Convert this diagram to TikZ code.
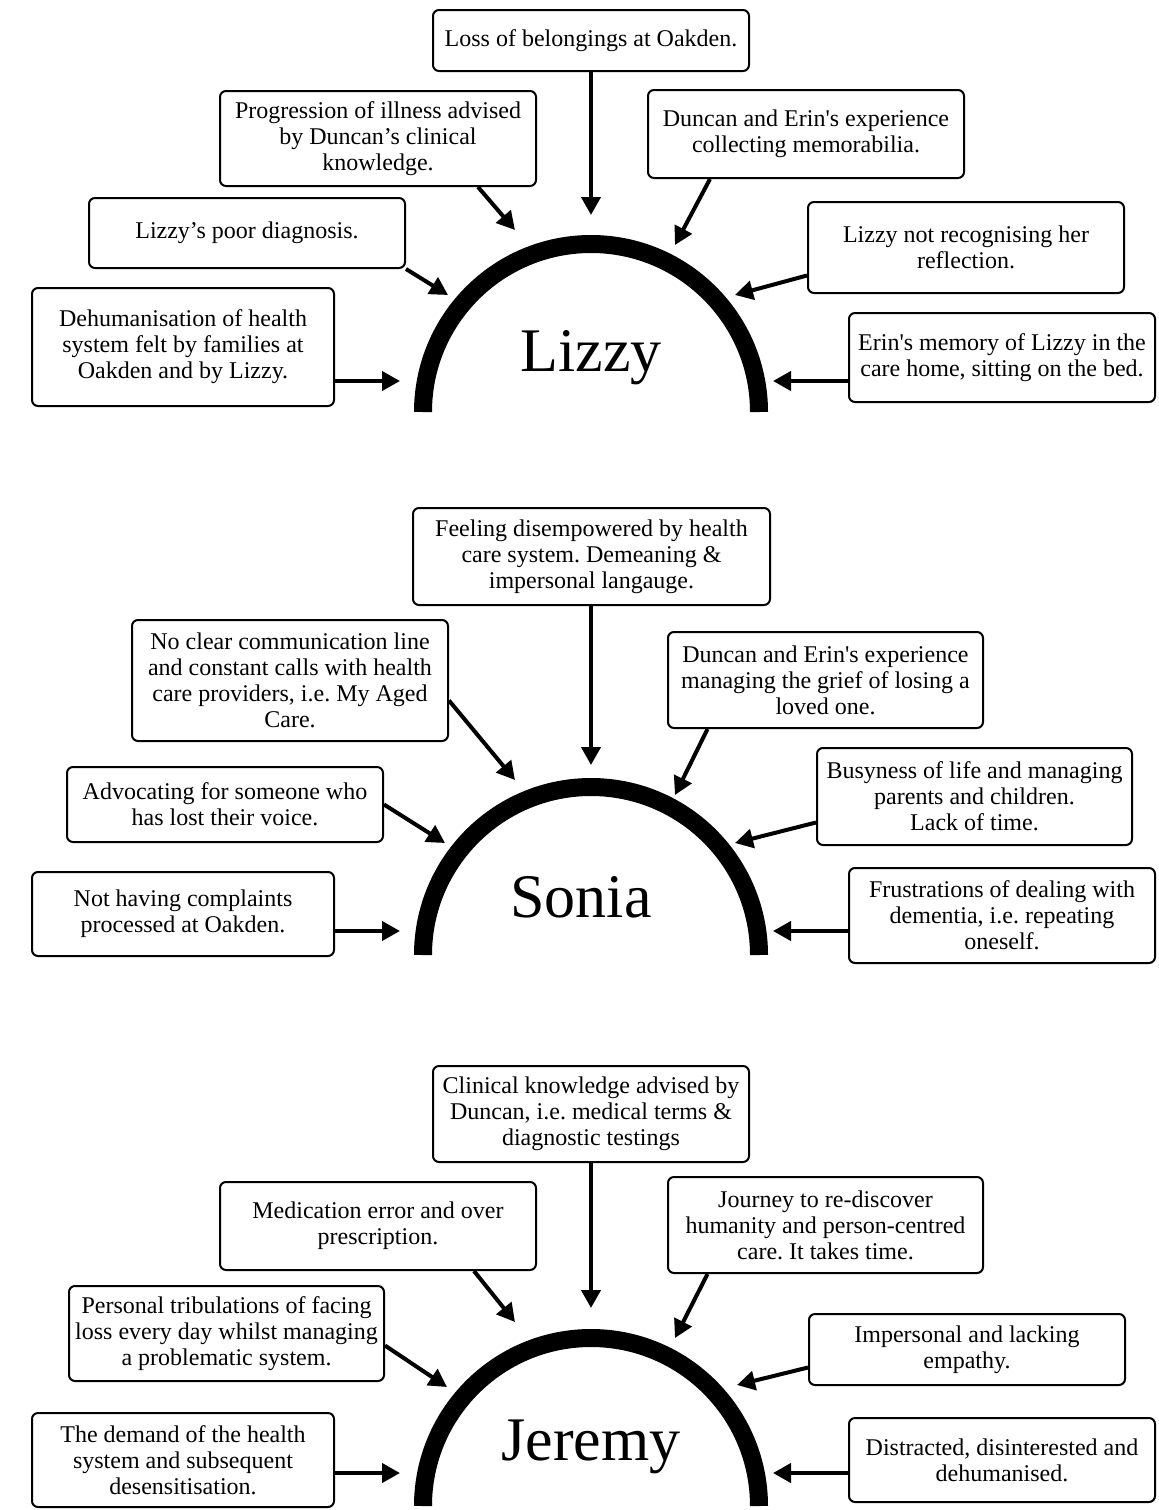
\documentclass[tikz,border=0pt]{standalone}
\usepackage{fontspec}
\newfontfamily\labelfont{Liberation Serif}
\usetikzlibrary{arrows.meta}
\frenchspacing
\tikzset {
  % box with one theme
  theme/.style = {
    draw = black,
    line width = 1pt,
    rounded corners = 3pt,
    align = center,
    inner sep = 0,
    minimum width = 158pt,
    font = \labelfont\fontsize{12pt}{13pt}\selectfont
  },
  % name inside the half ring
  person/.style = {
    anchor = base,
    font = \labelfont\fontsize{31pt}{31pt}\selectfont
  },
  ring/.style = {
    draw = black,
    line width = 9pt
  },
  % arrow from a theme to the ring
  arr/.style = {
    draw = black,
    line width = 2pt,
    -{Triangle[length=9pt,width=9.5pt]}
  }
}

\begin{document}
\begin{tikzpicture}[x=0.5pt, y=-0.5pt]
    \useasboundingbox (0,0) rectangle (1159,1510);

    % Lizzy
    \coordinate (lizzy-c) at (591,412);
    \draw[ring] (lizzy-c) ++(-168,0) arc[start angle=180, end angle=0, radius=84pt];
    \node[person] (lizzy) at (591,371) {Lizzy};

    \node[theme, minimum height=30.5pt] at (591,40.5) (lz-loss)
    {Loss of belongings at Oakden.};
    \node[theme, minimum height=47.5pt] at (378,138.5) (lz-prog)
    {Progression of illness advised\\ by Duncan’s clinical\\ knowledge.};
    \node[theme, minimum height=44pt] at (806,134) (lz-collect)
    {Duncan and Erin's experience\\ collecting memorabilia.};
    \node[theme, minimum height=35pt] at (247,233) (lz-diag)
    {Lizzy’s poor diagnosis.};
    \node[theme, minimum height=45.5pt] at (966,247.5) (lz-mirror)
    {Lizzy not recognising her\\ reflection.};
    \node[theme, minimum width=151pt, minimum height=59pt] at (183,347) (lz-dehum)
    {Dehumanisation of health\\ system felt by families at\\ Oakden and by Lizzy.};
    \node[theme, minimum width=153pt, minimum height=44.5pt] at (1002,357.5) (lz-bed)
    {Erin's memory of Lizzy in the\\ care home, sitting on the bed.};

    \coordinate (lz-loss-tip) at (591,215);
    \coordinate (lz-prog-tip) at (515,230);
    \coordinate (lz-collect-tip) at (675,245);
    \coordinate (lz-diag-tip) at (448,295);
    \coordinate (lz-mirror-tip) at (735,295);
    \coordinate (lz-dehum-tip) at (400,381);
    \coordinate (lz-bed-tip) at (773,381);

    \draw[arr] (lz-loss) -- (lz-loss-tip);
    \draw[arr] ([xshift=50pt]lz-prog.south) -- (lz-prog-tip);
    \draw[arr] ([xshift=-48pt]lz-collect.south) -- (lz-collect-tip);
    \draw[arr] (lz-diag.south east) -- (lz-diag-tip);
    \draw[arr] ([yshift=-14pt]lz-mirror.west) -- (lz-mirror-tip);
    \draw[arr] (lz-dehum.east |- lz-dehum-tip) -- (lz-dehum-tip);
    \draw[arr] (lz-bed.west |- lz-bed-tip) -- (lz-bed-tip);

    % Sonia
    \coordinate (sonia-c) at (591,955);
    \draw[ring] (sonia-c) ++(-168,0) arc[start angle=180, end angle=0, radius=84pt];
    \node[person] (sonia) at (581,917) {Sonia};

    \node[theme, minimum width=178.5pt, minimum height=48.5pt] at (591.5,556.5) (so-power)
    {Feeling disempowered by health\\ care system. Demeaning \&\\ impersonal langauge.};
    \node[theme, minimum height=60.5pt] at (290,680.5) (so-calls)
    {No clear communication line\\ and constant calls with health\\ care providers, i.e. My Aged\\ Care.};
    \node[theme, minimum width=157.5pt, minimum height=48pt] at (825.5,680) (so-grief)
    {Duncan and Erin's experience\\ managing the grief of losing a\\ loved one.};
    \node[theme, minimum height=37.5pt] at (225,804.5) (so-voice)
    {Advocating for someone who\\ has lost their voice.};
    \node[theme, minimum width=157.5pt, minimum height=48.5pt] at (974.5,796.5) (so-busy)
    {Busyness of life and managing\\ parents and children.\\ Lack of time.};
    \node[theme, minimum width=151pt, minimum height=42pt] at (183,914) (so-compl)
    {Not having complaints\\ processed at Oakden.};
    \node[theme, minimum width=153pt, minimum height=47.5pt] at (1002,915.5) (so-repeat)
    {Frustrations of dealing with\\ dementia, i.e. repeating\\ oneself.};

    \coordinate (so-power-tip) at (591,765);
    \coordinate (so-calls-tip) at (515,780);
    \coordinate (so-grief-tip) at (675,795);
    \coordinate (so-voice-tip) at (445,843);
    \coordinate (so-busy-tip) at (735,843);
    \coordinate (so-compl-tip) at (400,931);
    \coordinate (so-repeat-tip) at (773,931);

    \draw[arr] (so-power.south -| so-power-tip) -- (so-power-tip);
    \draw[arr] ([yshift=-10pt]so-calls.east) -- (so-calls-tip);
    \draw[arr] ([xshift=-59pt]so-grief.south) -- (so-grief-tip);
    \draw[arr] (so-voice.east) -- (so-voice-tip);
    \draw[arr] ([yshift=-13pt]so-busy.west) -- (so-busy-tip);
    \draw[arr] (so-compl.east |- so-compl-tip) -- (so-compl-tip);
    \draw[arr] (so-repeat.west |- so-repeat-tip) -- (so-repeat-tip);

    % Jeremy
    \coordinate (jeremy-c) at (591,1506);
    \draw[ring] (jeremy-c) ++(-168,0) arc[start angle=180, end angle=0, radius=84pt];
    \node[person] (jeremy) at (591,1460) {Jeremy};

    \node[theme, minimum height=48pt] at (591,1114) (je-clinic)
    {Clinical knowledge advised by\\ Duncan, i.e. medical terms \&\\ diagnostic testings};
    \node[theme, minimum height=44pt] at (378,1226) (je-medic)
    {Medication error and over\\ prescription.};
    \node[theme, minimum width=157.5pt, minimum height=48pt] at (825.5,1225) (je-journey)
    {Journey to re-discover\\ humanity and person-centred\\ care. It takes time.};
    \node[theme, minimum width=157.5pt, minimum height=47.5pt] at (226.5,1333.5) (je-loss)
    {Personal tribulations of facing\\ loss every day whilst managing\\ a problematic system.};
    \node[theme, minimum height=35.5pt] at (967,1349.5) (je-empathy)
    {Impersonal and lacking\\ empathy.};
    \node[theme, minimum width=151pt, minimum height=47pt] at (183,1460) (je-demand)
    {The demand of the health\\ system and subsequent\\ desensitisation.};
    \node[theme, minimum width=153pt, minimum height=42pt] at (1002,1460) (je-distract)
    {Distracted, disinterested and\\ dehumanised.};

    \coordinate (je-clinic-tip) at (591,1308);
    \coordinate (je-medic-tip) at (515,1322);
    \coordinate (je-journey-tip) at (675,1338);
    \coordinate (je-loss-tip) at (447,1387);
    \coordinate (je-empathy-tip) at (737,1385);
    \coordinate (je-demand-tip) at (400,1473);
    \coordinate (je-distract-tip) at (773,1473);

    \draw[arr] (je-clinic) -- (je-clinic-tip);
    \draw[arr] ([xshift=48pt]je-medic.south) -- (je-medic-tip);
    \draw[arr] ([xshift=-59pt]je-journey.south) -- (je-journey-tip);
    \draw[arr] ([yshift=-6pt]je-loss.east) -- (je-loss-tip);
    \draw[arr] ([yshift=-9pt]je-empathy.west) -- (je-empathy-tip);
    \draw[arr] (je-demand.east |- je-demand-tip) -- (je-demand-tip);
    \draw[arr] (je-distract.west |- je-distract-tip) -- (je-distract-tip);
\end{tikzpicture}
\end{document}
